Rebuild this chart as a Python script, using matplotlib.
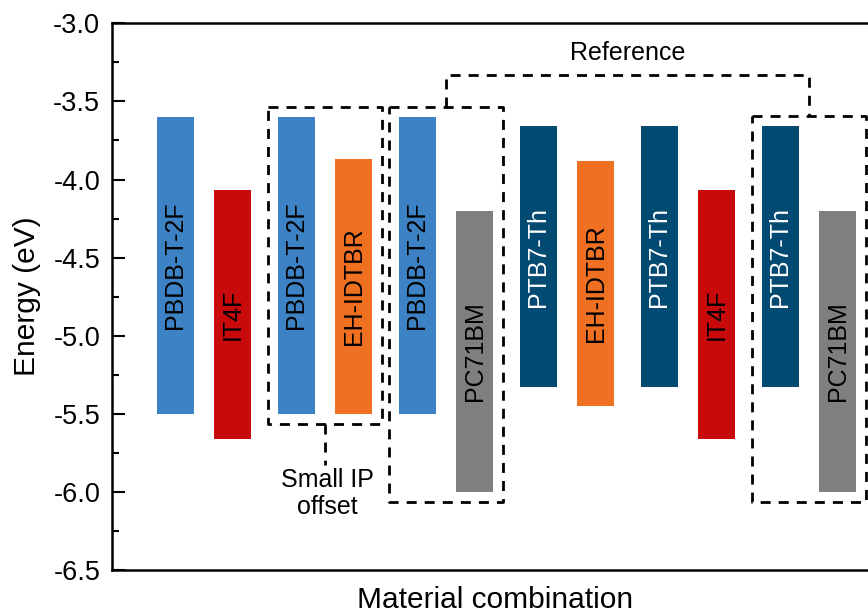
import numpy as np
import matplotlib
matplotlib.use("Agg")
import matplotlib.pyplot as plt
from matplotlib.ticker import MultipleLocator

plt.rcParams["font.family"] = ["Liberation Sans", "DejaVu Sans"]
plt.rcParams["axes.unicode_minus"] = False

# Energy levels (eV) of each material, listed pair by pair (donor, acceptor)
materials = ["PBDB-T-2F", "IT4F",
             "PBDB-T-2F", "EH-IDTBR",
             "PBDB-T-2F", "PC71BM",
             "PTB7-Th", "EH-IDTBR",
             "PTB7-Th", "IT4F",
             "PTB7-Th", "PC71BM"]
lumo = [-3.60, -4.07,
        -3.60, -3.87,
        -3.60, -4.20,
        -3.66, -3.88,
        -3.66, -4.07,
        -3.66, -4.20]
homo = [-5.50, -5.66,
        -5.50, -5.50,
        -5.50, -6.00,
        -5.33, -5.45,
        -5.33, -5.66,
        -5.33, -6.00]

colors = {"PBDB-T-2F": "#3d82c5",
          "IT4F": "#c80a0a",
          "EH-IDTBR": "#f07022",
          "PC71BM": "#7f7f7f",
          "PTB7-Th": "#034a73"}
label_colors = {"PTB7-Th": "white"}

yticks = [-6.5, -6.0, -5.5, -5.0, -4.5, -4.0, -3.5, -3.0]

fig = plt.figure(figsize=(8.68, 6.16), dpi=100)
ax = fig.add_axes([112 / 868, 1 - 570 / 616, 766 / 868, (570 - 23.3) / 616])

# x positions: two bars per pair, small gap between pairs
n = len(materials)
pair_step = 2.1
xpos = np.array([(i // 2) * pair_step + (i % 2) for i in range(n)])
width = 0.643

lumo_a = np.array(lumo)
homo_a = np.array(homo)
ax.bar(xpos, lumo_a - homo_a, bottom=homo_a, width=width,
       color=[colors[m] for m in materials], linewidth=0, zorder=2)

for x, m, lo, hi in zip(xpos, materials, homo_a, lumo_a):
    ax.text(x, (lo + hi) / 2, m, rotation=90, ha="center", va="center",
            rotation_mode="anchor", fontsize=18,
            color=label_colors.get(m, "black"), zorder=3)

# dashed frames around highlighted pairs
dash = dict(color="black", lw=2.0, ls=(0, (3.6, 2.9)), zorder=4,
            solid_capstyle="butt", dash_capstyle="butt")
padx, pady = 0.17, 0.065


def frame(i, j):
    left = xpos[i] - width / 2 - padx
    right = xpos[j] + width / 2 + padx
    top = max(lumo_a[i], lumo_a[j]) + pady
    bottom = min(homo_a[i], homo_a[j]) - pady
    ax.plot([left, right, right, left, left], [top, top, bottom, bottom, top], **dash)
    return left, right, top, bottom


la, ra, ta, ba = frame(2, 3)
lb, rb, tb, bb = frame(4, 5)
lc, rc, tc, bc = frame(10, 11)

# "Reference" bracket joining the two fullerene blends
ref_y = -3.33
cb = (lb + rb) / 2
cc = (lc + rc) / 2
ax.plot([cb, cb, cc, cc], [tb, ref_y, ref_y, tc], **dash)
ax.text((cb + cc) / 2, -3.19, "Reference", ha="center", va="center", fontsize=18)

# "Small IP offset" pointer
ca = (la + ra) / 2
ax.plot([ca, ca], [ba, -5.83], **dash)
ax.text(ca + 0.04, -6.01, "Small IP\noffset", ha="center", va="center",
        fontsize=18, linespacing=1.15)

ax.set_xlim(-1.1, 12.2)
ax.set_ylim(-6.5, -3.0)
ax.set_yticks(yticks)
ax.set_yticklabels([f"{v:.1f}" for v in yticks])
ax.yaxis.set_minor_locator(MultipleLocator(0.25))
ax.set_xticks([])
ax.tick_params(axis="y", which="major", direction="in", length=9.4, width=1.5,
               labelsize=19.5, pad=8.5)
ax.tick_params(axis="y", which="minor", direction="in", length=5, width=1.5)
for s in ax.spines.values():
    s.set_linewidth(1.8)

ax.set_ylabel("Energy (eV)", fontsize=21.5)
ax.yaxis.set_label_coords(-0.093, 0.5)
ax.set_xlabel("Material combination", fontsize=21.5)
ax.xaxis.set_label_coords(0.5, -0.029)

fig.savefig("out.png", dpi=100)
